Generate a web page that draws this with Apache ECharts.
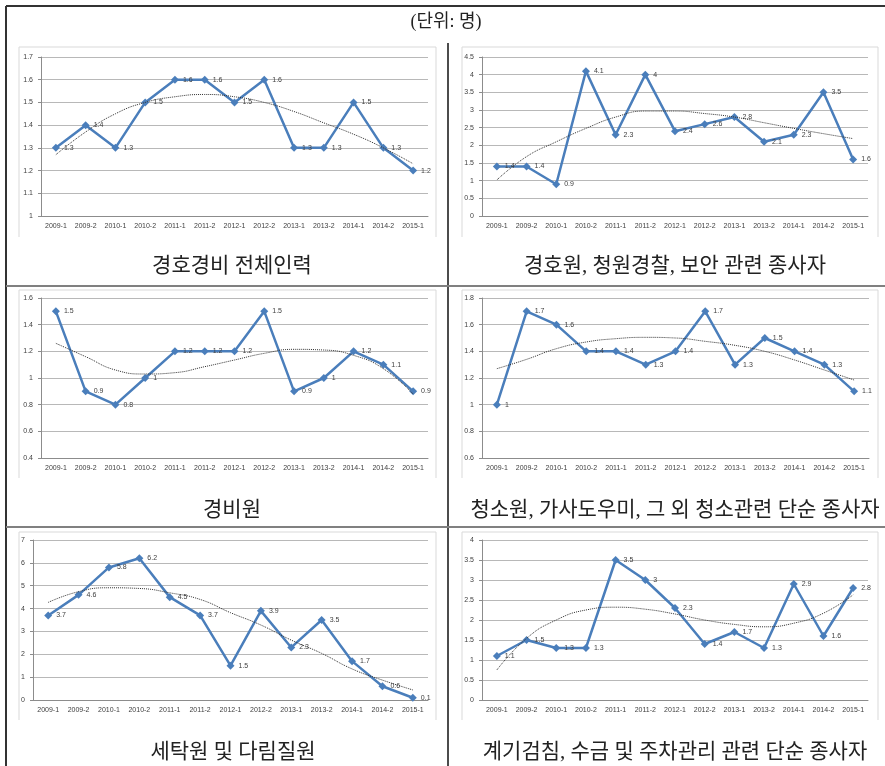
<!DOCTYPE html>
<html>
<head>
<meta charset="utf-8">
<script src="https://cdn.jsdelivr.net/npm/echarts@6/dist/echarts.min.js"></script>
<style>
  html, body { margin: 0; padding: 0; background: #fff; }
  #main { width: 885px; height: 766px; }
</style>
</head>
<body>
<div id="main"></div>
<script>
// 기간
var periods = ['2009-1', '2009-2', '2010-1', '2010-2', '2011-1', '2011-2', '2012-1',
  '2012-2', '2013-1', '2013-2', '2014-1', '2014-2', '2015-1'];

// 각 직종 값
var guardAll = [1.3, 1.4, 1.3, 1.5, 1.6, 1.6, 1.5, 1.6, 1.3, 1.3, 1.5, 1.3, 1.2];
var bodyguard = [1.4, 1.4, 0.9, 4.1, 2.3, 4, 2.4, 2.6, 2.8, 2.1, 2.3, 3.5, 1.6];
var securityGuard = [1.5, 0.9, 0.8, 1, 1.2, 1.2, 1.2, 1.5, 0.9, 1, 1.2, 1.1, 0.9];
var cleaner = [1, 1.7, 1.6, 1.4, 1.4, 1.3, 1.4, 1.7, 1.3, 1.5, 1.4, 1.3, 1.1];
var laundry = [3.7, 4.6, 5.8, 6.2, 4.5, 3.7, 1.5, 3.9, 2.3, 3.5, 1.7, 0.6, 0.1];
var meterReader = [1.1, 1.5, 1.3, 1.3, 3.5, 3, 2.3, 1.4, 1.7, 1.3, 2.9, 1.6, 2.8];

// 추세선
var guardAllTrend = [1.27, 1.37, 1.45, 1.5, 1.525, 1.535, 1.525, 1.5, 1.46, 1.41, 1.36, 1.3, 1.23];
var bodyguardTrend = [1.02, 1.68, 2.1, 2.48, 2.8, 2.97, 2.97, 2.9, 2.8, 2.64, 2.48, 2.33, 2.19];
var securityGuardTrend = [1.26, 1.16, 1.06, 1.03, 1.04, 1.085, 1.135, 1.185, 1.215, 1.21, 1.17, 1.07, 0.88];
var cleanerTrend = [1.27, 1.34, 1.42, 1.47, 1.495, 1.505, 1.5, 1.475, 1.445, 1.4, 1.335, 1.26, 1.185];
var laundryTrend = [4.27, 4.74, 4.91, 4.88, 4.69, 4.4, 3.82, 3.28, 2.62, 2.04, 1.36, 0.87, 0.44];
var meterReaderTrend = [0.75, 1.54, 2.0, 2.25, 2.32, 2.27, 2.15, 2.0, 1.89, 1.83, 1.92, 2.17, 2.63];

var captions = ['경호경비 전체인력', '경호원, 청원경찰, 보안 관련 종사자', '경비원',
  '청소원, 가사도우미, 그 외 청소관련 단순 종사자', '세탁원 및 다림질원', '계기검침, 수금 및 주차관리 관련 단순 종사자'];
var yMins = [1, 0, 0.4, 0.6, 0, 0];
var yMaxs = [1.7, 4.5, 1.6, 1.8, 7, 4];
var yIntervals = [0.1, 0.5, 0.2, 0.2, 1, 0.5];

var values = [guardAll, bodyguard, securityGuard, cleaner, laundry, meterReader];
var trends = [guardAllTrend, bodyguardTrend, securityGuardTrend, cleanerTrend, laundryTrend, meterReaderTrend];

// 레이아웃
var grids = [
  { left: 41, top: 57, width: 387, height: 159 },
  { left: 482, top: 57, width: 386, height: 159 },
  { left: 41, top: 298, width: 387, height: 160 },
  { left: 482, top: 298, width: 387, height: 160 },
  { left: 33, top: 540, width: 395, height: 160 },
  { left: 482, top: 540, width: 386, height: 160 }
];
var boxes = [
  [19, 47, 436, 237], [462, 47, 878, 237],
  [19, 290, 436, 478], [462, 290, 878, 478],
  [19, 532, 436, 720], [462, 532, 878, 720]
];
var captionPos = [[227, 251], [670, 251], [227, 495], [670, 495], [228, 737], [670, 737]];

var blue = '#4A7EBB';
var textColor = '#404040';
var titleFont = '"Liberation Serif", "Noto Sans CJK KR"';

var myChart = echarts.init(document.getElementById('main'));

var xAxes = [], yAxes = [], series = [], titles = [], graphics = [];

titles.push({
  text: '(단위: 명)',
  left: 441, top: 8, textAlign: 'center',
  textStyle: { fontFamily: titleFont, fontSize: 18, fontWeight: 'normal', color: '#222' }
});

for (var i = 0; i < 6; i++) {
  xAxes.push({
    type: 'category', gridIndex: i, data: periods, boundaryGap: true,
    axisLine: { lineStyle: { color: '#8c8c8c' } },
    axisTick: { interval: 0, length: 4, lineStyle: { color: '#8c8c8c' } },
    axisLabel: { interval: 0, fontSize: 7, color: textColor, margin: 7, fontFamily: 'Arial, "Liberation Sans"' }
  });
  yAxes.push({
    type: 'value', gridIndex: i, min: yMins[i], max: yMaxs[i], interval: yIntervals[i],
    axisLine: { show: true, lineStyle: { color: '#8c8c8c' } },
    axisTick: { show: true, length: 3, lineStyle: { color: '#8c8c8c' } },
    axisLabel: { fontSize: 7, color: textColor, margin: 8, fontFamily: 'Arial, "Liberation Sans"' },
    splitLine: { lineStyle: { color: '#b8b8b8', width: 1 } }
  });
  series.push({
    type: 'line', xAxisIndex: i, yAxisIndex: i, data: values[i],
    symbol: 'diamond', symbolSize: 8,
    lineStyle: { color: blue, width: 2.5 },
    itemStyle: { color: blue },
    label: { show: true, position: 'right', distance: 4, fontSize: 7, color: textColor,
      fontFamily: 'Arial, "Liberation Sans"' },
    z: 2
  });
  series.push({
    type: 'line', xAxisIndex: i, yAxisIndex: i, data: trends[i],
    smooth: true, symbol: 'none', silent: true,
    lineStyle: { color: '#333', width: 1, type: 'dotted' },
    z: 3
  });
  titles.push({
    text: captions[i],
    left: captionPos[i][0], top: captionPos[i][1], textAlign: 'center',
    textStyle: { fontFamily: titleFont, fontSize: 21, fontWeight: 'normal', color: '#222' }
  });
  var b = boxes[i];
  graphics.push({
    type: 'polyline', silent: true, z: -1,
    shape: { points: [[b[0], b[3]], [b[0], b[1]], [b[2], b[1]], [b[2], b[3]]] },
    style: { stroke: '#d9d9d9', lineWidth: 1, fill: null }
  });
}

// 표 테두리
var tableLines = [
  { pts: [[6, 6], [885, 6]], color: '#333', w: 2 },
  { pts: [[6, 6], [6, 766]], color: '#333', w: 2 },
  { pts: [[448, 43], [448, 766]], color: '#111', w: 1.5 },
  { pts: [[6, 286], [885, 286]], color: '#808080', w: 2 },
  { pts: [[6, 527], [885, 527]], color: '#808080', w: 2 }
];
tableLines.forEach(function (l) {
  graphics.push({
    type: 'polyline', silent: true, z: 10,
    shape: { points: l.pts },
    style: { stroke: l.color, lineWidth: l.w, fill: null }
  });
});

var option = {
  backgroundColor: '#fff',
  animation: false,
  title: titles,
  grid: grids,
  xAxis: xAxes,
  yAxis: yAxes,
  series: series,
  graphic: graphics
};

myChart.setOption(option);
</script>
</body>
</html>
